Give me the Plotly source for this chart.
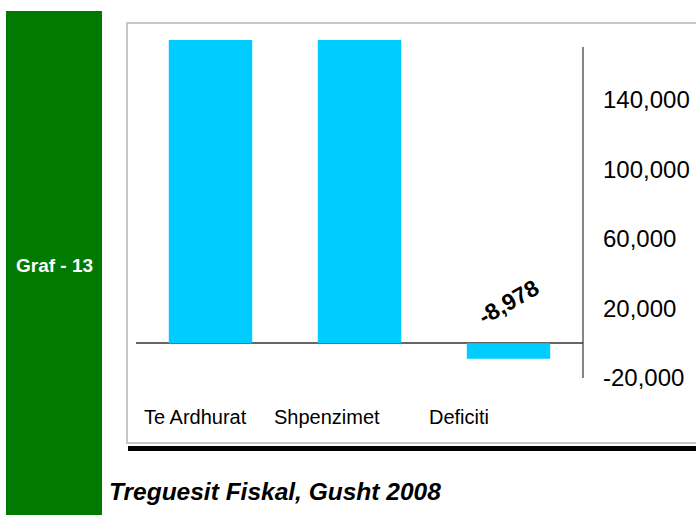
import plotly.graph_objects as go

# ---- data ----
categories = ["Te Ardhurat", "Shpenzimet", "Deficiti"]
values = [181000, 189978, -8978]
deficit_label = "-8,978"
tick_vals = [-20000, 20000, 60000, 100000, 140000]
tick_text = ["-20,000", "20,000", "60,000", "100,000", "140,000"]
title_text = "Treguesit Fiskal, Gusht 2008"
side_label = "Graf - 13"

W, H = 696, 515
H_EFF = 502.0  # effective rendered paper height observed in the viewer

def px(x):
    return x / W

def py(y):
    return 1 - y / H_EFF

fig = go.Figure()
fig.add_trace(go.Bar(
    x=categories, y=values, width=0.56,
    marker=dict(color="#00CCFF", line=dict(width=0)),
    hoverinfo="x+y", showlegend=False,
))

shapes = [
    dict(type="rect", xref="paper", yref="paper", x0=px(6), x1=px(102), y0=py(540), y1=py(11),
         fillcolor="#007A00", line=dict(width=0), layer="below"),
    dict(type="rect", xref="paper", yref="paper", x0=px(127), x1=px(720), y0=py(443), y1=py(23),
         fillcolor="white", line=dict(color="#c8c8c8", width=2), layer="below"),
    dict(type="rect", xref="paper", yref="paper", x0=px(128), x1=px(720), y0=py(451), y1=py(446),
         fillcolor="black", line=dict(width=0), layer="below"),
    dict(type="line", xref="paper", yref="paper", x0=px(583), x1=px(583), y0=py(378), y1=py(47),
         line=dict(color="#333333", width=1.2)),
]

annotations = [
    dict(text=side_label, xref="paper", yref="paper", x=px(54.5), y=py(265), showarrow=False,
         font=dict(family="Liberation Sans", size=19, color="white", weight="bold"),
         xanchor="center", yanchor="middle"),
    dict(text=f"<i>{title_text}</i>", xref="paper", yref="paper", x=px(107), y=py(491), showarrow=False,
         font=dict(family="Liberation Sans", size=24.5, color="black", weight="bold"),
         xanchor="left", yanchor="middle"),
    dict(text=deficit_label, xref="x", yref="y", x=categories[2], y=0, yshift=41, xshift=0,
         showarrow=False, textangle=-30,
         font=dict(family="Liberation Sans", size=23, color="black", weight="bold"),
         xanchor="center", yanchor="middle"),
]

label_shifts = [-15, -33, -50]
for cat, sh in zip(categories, label_shifts):
    annotations.append(dict(text=cat, xref="x", yref="paper", x=cat, y=py(417), xshift=sh,
                            showarrow=False, xanchor="center", yanchor="middle",
                            font=dict(family="Liberation Sans", size=20, color="black")))

fig.update_layout(
    width=W, height=H, autosize=False,
    margin=dict(l=0, r=0, t=0, b=0),
    paper_bgcolor="white", plot_bgcolor="rgba(0,0,0,0)",
    shapes=shapes, annotations=annotations,
    xaxis=dict(domain=[px(136), px(583)], range=[-0.5, 2.5], showticklabels=False,
               showgrid=False, zeroline=False, showline=False, ticks=""),
    yaxis=dict(domain=[py(378), py(40)], range=[-20000, 174550], side="right",
               tickvals=tick_vals, ticktext=tick_text, showgrid=False,
               zeroline=True, zerolinecolor="#666666", zerolinewidth=1.5,
               showline=False, ticks="", ticklabelstandoff=19,
               tickfont=dict(family="Liberation Sans", size=24, color="black")),
)

post = (
    "document.documentElement.style.margin='0';"
    "document.documentElement.style.padding='0';"
    "document.documentElement.style.overflow='hidden';"
    "document.body.style.margin='0';"
    "document.body.style.padding='0';"
    "document.body.style.overflow='hidden';"
)

fig.write_html("out.html", config={"displayModeBar": False, "responsive": False}, post_script=post)
